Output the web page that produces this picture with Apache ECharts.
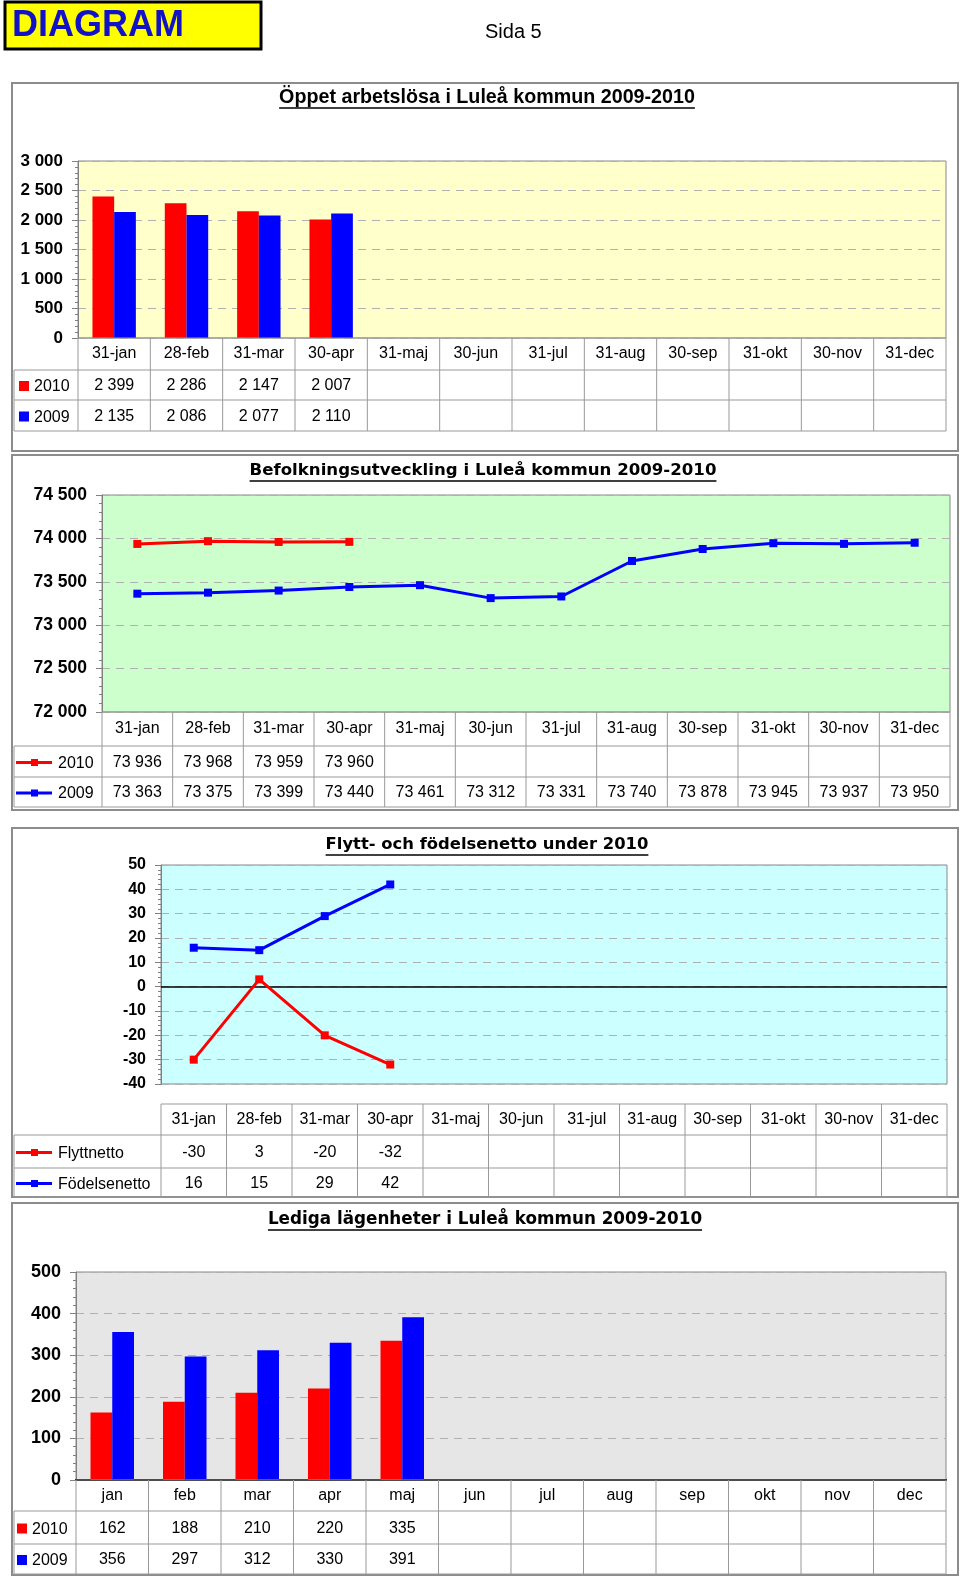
<!DOCTYPE html>
<html><head><meta charset="utf-8">
<script src="https://cdn.jsdelivr.net/npm/echarts@6/dist/echarts.min.js"></script>
<style>html,body{margin:0;padding:0;background:#fff}#c{width:960px;height:1578px}</style>
</head><body><div id="c"></div>
<script>
// ---------- DATA ----------
const dates = ['31-jan','28-feb','31-mar','30-apr','31-maj','30-jun','31-jul','31-aug','30-sep','31-okt','30-nov','31-dec'];
const months = ['jan','feb','mar','apr','maj','jun','jul','aug','sep','okt','nov','dec'];
const yearNames = ['2010','2009'];
const netNames = ['Flyttnetto','Födelsenetto'];
const unemployed2010 = [2399,2286,2147,2007,null,null,null,null,null,null,null,null];
const unemployed2009 = [2135,2086,2077,2110,null,null,null,null,null,null,null,null];
const population2010 = [73936,73968,73959,73960,null,null,null,null,null,null,null,null];
const population2009 = [73363,73375,73399,73440,73461,73312,73331,73740,73878,73945,73937,73950];
const flyttnetto = [-30,3,-20,-32,null,null,null,null,null,null,null,null];
const fodelsenetto = [16,15,29,42,null,null,null,null,null,null,null,null];
const vacant2010 = [162,188,210,220,335,null,null,null,null,null,null,null];
const vacant2009 = [356,297,312,330,391,null,null,null,null,null,null,null];
const titles = ['Öppet arbetslösa i Luleå kommun 2009-2010','Befolkningsutveckling i Luleå kommun 2009-2010','Flytt- och födelsenetto under 2010','Lediga lägenheter i Luleå kommun 2009-2010'];
const headerText = 'DIAGRAM';
const pageText = 'Sida 5';

// ---------- LAYOUT ----------
const RED = '#ff0000', BLUE = '#0000ff';
const TF = '"Liberation Sans", Arial, sans-serif';
const L = [
  {frame:[12,83,946,368], g:{l:78,t:161,r:946,b:338}, hdr:338, rows:[370,400,431], title:{x:487,y:98,font:'bold 19.7px '+TF}, min:0,max:3000,step:500, bg:'#ffffcc', yfs:17, sym:'sq', symX:19},
  {frame:[12,455,946,355], g:{l:102,t:495,r:950,b:712}, hdr:712, rows:[746,777,807], title:{x:483,y:471,font:'bold 16.6px "DejaVu Sans"'}, min:72000,max:74500,step:500, bg:'#ccffcc', yfs:17.5, sym:'line', symX:16},
  {frame:[12,828,946,369], g:{l:161,t:865,r:947,b:1084}, hdr:1104, rows:[1135,1168,1197], title:{x:487,y:845,font:'bold 16.4px "DejaVu Sans"'}, min:-40,max:50,step:10, bg:'#ccffff', yfs:16, sym:'line', symX:16},
  {frame:[12,1203,946,372], g:{l:76,t:1272,r:946,b:1480}, hdr:1480, rows:[1511,1544,1574], title:{x:485,y:1220,font:'bold 16.8px "DejaVu Sans"'}, min:0,max:500,step:100, bg:'#e6e6e6', yfs:18, sym:'sq', symX:17}
];
const sp = v => (v < 0 ? '-' : '') + String(Math.abs(v)).replace(/\B(?=(\d{3})+(?!\d))/g, ' ');
const cats = [dates, dates, dates, months];
const tableRows = [
  [unemployed2010, unemployed2009],
  [population2010, population2009],
  [flyttnetto, fodelsenetto],
  [vacant2010, vacant2009]
];
const rowNames = [yearNames, yearNames, netNames, yearNames];
const rowColors = [RED, BLUE];

const mctx = document.createElement('canvas').getContext('2d');
function tw(font, text){ mctx.font = font; return mctx.measureText(text).width; }

const chart = echarts.init(document.getElementById('c'), null, {renderer:'canvas'});

const grids = [], xAxes = [], yAxes = [];
L.forEach((c, k) => {
  grids.push({left:c.g.l, top:c.g.t, width:c.g.r-c.g.l, height:c.g.b-c.g.t, show:true, backgroundColor:c.bg, borderColor:'#888', borderWidth:1, containLabel:false});
  const rowMid = (c.hdr + c.rows[0]) / 2;
  xAxes.push({type:'category', gridIndex:k, data:cats[k], boundaryGap:true,
    axisLine:{show:k===3, onZero:false, lineStyle:{color:'#000', width:2}},
    axisTick:{show:false},
    axisLabel:{interval:0, margin:rowMid - c.g.b, verticalAlign:'middle', color:'#000', fontSize:16, fontFamily:TF}});
  yAxes.push({type:'value', gridIndex:k, min:c.min, max:c.max, interval:c.step,
    axisLine:{show:true, lineStyle:{color:'#808080'}},
    axisTick:{show:true, length:6, lineStyle:{color:'#808080'}},
    minorTick:{show:true, splitNumber:5, length:3, lineStyle:{color:'#808080'}},
    splitLine:{show:true, lineStyle:{color:'#b0b0b0', type:[8,6]}},
    axisLabel:{margin:15, color:'#000', fontWeight:'bold', fontSize:c.yfs, fontFamily:TF, formatter:v=>sp(v)}});
});

const lineSeries = (name, data, color, k, extra) => Object.assign({type:'line', name, data, xAxisIndex:k, yAxisIndex:k,
  color, symbol:'rect', symbolSize:8, lineStyle:{width:3, color}, itemStyle:{color}, connectNulls:false, z:5}, extra||{});
const barSeries = (name, data, color, k) => ({type:'bar', name, data, xAxisIndex:k, yAxisIndex:k, color, itemStyle:{color},
  barGap:'0%', barCategoryGap:'40%'});

const series = [
  barSeries(yearNames[0], unemployed2010, RED, 0),
  barSeries(yearNames[1], unemployed2009, BLUE, 0),
  lineSeries(yearNames[0], population2010, RED, 1),
  lineSeries(yearNames[1], population2009, BLUE, 1),
  lineSeries(netNames[0], flyttnetto, RED, 2, {markLine:{silent:true, symbol:'none', label:{show:false}, lineStyle:{color:'#000', type:'solid', width:1.5}, data:[{yAxis:0}]}}),
  lineSeries(netNames[1], fodelsenetto, BLUE, 2),
  barSeries(yearNames[0], vacant2010, RED, 3),
  barSeries(yearNames[1], vacant2009, BLUE, 3)
];

// ---------- GRAPHICS (header, frames, titles, tables) ----------
const G = [];
const line = (x1,y1,x2,y2,stroke,w) => G.push({type:'line', silent:true, shape:{x1,y1,x2,y2}, style:{stroke:stroke||'#999', lineWidth:w||1}, z:10});
const text = (t,x,y,font,fill,align) => G.push({type:'text', silent:true, x, y, style:{text:t, font, fill:fill||'#000', align:align||'center', verticalAlign:'middle', textAlign:align||'center', textVerticalAlign:'middle'}, z:11});

G.push({type:'rect', silent:true, shape:{x:5, y:2, width:256, height:47}, style:{fill:'#ffff00', stroke:'#000', lineWidth:3}, z:9});
text(headerText, 12, 26, 'bold 36px '+TF, '#1212c8', 'left');
text(pageText, 485, 32, '20px '+TF, '#000', 'left');

L.forEach((c, k) => {
  const [fx,fy,fw,fh] = c.frame;
  G.push({type:'rect', silent:true, shape:{x:fx, y:fy, width:fw, height:fh}, style:{fill:'none', stroke:'#8c8c8c', lineWidth:2}, z:9});
  const w = tw(c.title.font, titles[k]);
  text(titles[k], c.title.x, c.title.y, c.title.font, '#000');
  line(c.title.x - w/2, c.title.y + 10, c.title.x + w/2, c.title.y + 10, '#000', 1.5);
  const n = cats[k].length, colW = (c.g.r - c.g.l) / n;
  const top = c.hdr, [r1, r2, r3] = c.rows;
  const tl = 14;
  line(c.g.l, top, c.g.r, top);
  line(tl, r1, c.g.r, r1);
  line(tl, r2, c.g.r, r2);
  line(tl, r3, c.g.r, r3);
  line(tl, r1, tl, r3);
  for (let i = 0; i <= n; i++) line(c.g.l + i*colW, top, c.g.l + i*colW, r3);
  const rowsY = [(r1+r2)/2, (r2+r3)/2];
  tableRows[k].forEach((arr, j) => {
    arr.forEach((v, i) => { if (v !== null && v !== undefined) text(sp(v), c.g.l + (i+0.5)*colW, rowsY[j]+1, '16px '+TF); });
    const col = rowColors[j];
    if (c.sym === 'sq') {
      G.push({type:'rect', silent:true, shape:{x:c.symX, y:rowsY[j]-4, width:10, height:10}, style:{fill:col}, z:11});
      text(rowNames[k][j], c.symX + 15, rowsY[j]+2, '16px '+TF, '#000', 'left');
    } else {
      line(c.symX, rowsY[j]+1, c.symX+36, rowsY[j]+1, col, 3);
      G.push({type:'rect', silent:true, shape:{x:c.symX+15, y:rowsY[j]-2.5, width:7, height:7}, style:{fill:col}, z:12});
      text(rowNames[k][j], c.symX + 42, rowsY[j]+2, '16px '+TF, '#000', 'left');
    }
  });
});

chart.setOption({
  animation:false,
  backgroundColor:'#fff',
  grid:grids, xAxis:xAxes, yAxis:yAxes, series,
  graphic:{elements:G}
});
</script>
</body></html>
